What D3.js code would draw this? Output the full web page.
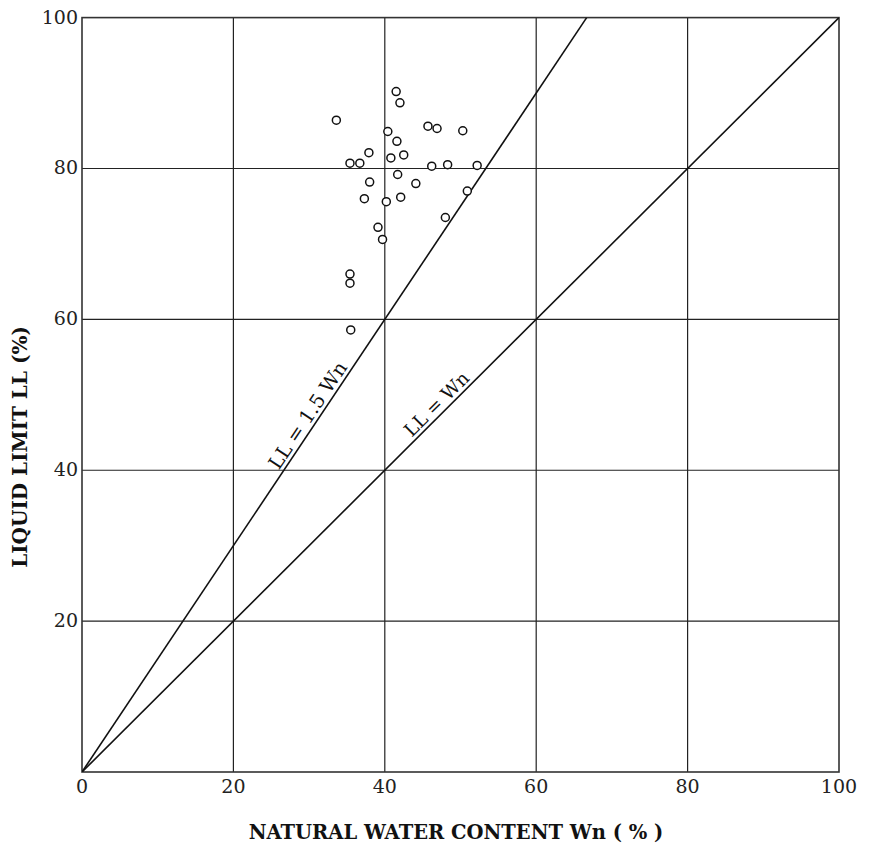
<!DOCTYPE html>
<html>
<head>
<meta charset="utf-8">
<script src="https://cdn.jsdelivr.net/npm/d3@7.9.0/dist/d3.min.js"></script>
<style>
  html, body { margin: 0; padding: 0; background: #fff; }
  svg { display: block; }
  .tick-label { font-family: "DejaVu Serif", serif; font-size: 19px; fill: #222; }
  .axis-title { font-family: "DejaVu Serif", serif; font-weight: bold; fill: #111; }
  .line-label { font-family: "DejaVu Serif", serif; fill: #111; }
</style>
</head>
<body>
<svg id="chart" width="869" height="851"></svg>
<script>
// natural water content Wn (%) of each sample
const wn = [41.5, 42.0, 33.6, 45.7, 46.9, 50.3, 40.4, 41.6, 37.9, 42.5,
            40.8, 35.4, 36.7, 46.2, 48.3, 52.2, 41.7, 38.0, 44.1, 50.9,
            37.3, 42.1, 40.2, 48.0, 39.1, 39.7, 35.4, 35.4, 35.5];
// liquid limit LL (%) of each sample
const ll = [90.2, 88.7, 86.4, 85.6, 85.3, 85.0, 84.9, 83.6, 82.1, 81.8,
            81.4, 80.7, 80.7, 80.3, 80.5, 80.4, 79.2, 78.2, 78.0, 77.0,
            76.0, 76.2, 75.6, 73.5, 72.2, 70.6, 66.0, 64.8, 58.6];

const gridValues = [20, 40, 60, 80];
const xTickLabels = [0, 20, 40, 60, 80, 100];
const yTickLabels = [20, 40, 60, 80, 100];

// reference lines LL = k * Wn
const refRatios = [1.5, 1];
const refLabels = ["LL = 1.5 Wn", "LL = Wn"];
const refLabelAt = [31, 47.8];   // Wn where the label sits
const refLabelSize = [19.5, 18.5];

const margin = { top: 17.6, right: 30, bottom: 79, left: 82 };
const svg = d3.select("#chart");
const width = 869 - margin.left - margin.right;
const height = 851 - margin.top - margin.bottom;

const x = d3.scaleLinear().domain([0, 100]).range([0, width]);
const y = d3.scaleLinear().domain([0, 100]).range([height, 0]);

const g = svg.append("g").attr("transform", `translate(${margin.left},${margin.top})`);

// grid
g.selectAll(".vgrid").data(gridValues).join("line")
  .attr("x1", d => x(d)).attr("x2", d => x(d))
  .attr("y1", 0).attr("y2", height)
  .attr("stroke", "#222").attr("stroke-width", 1.2);
g.selectAll(".hgrid").data(gridValues).join("line")
  .attr("class", "hgrid")
  .attr("x1", 0).attr("x2", width)
  .attr("y1", d => y(d)).attr("y2", d => y(d))
  .attr("stroke", "#222").attr("stroke-width", 1.2);

// frame
g.append("rect")
  .attr("width", width).attr("height", height)
  .attr("fill", "none").attr("stroke", "#333").attr("stroke-width", 1.6);

// reference lines, clipped to the plot
const clip = svg.append("defs").append("clipPath").attr("id", "plotclip");
clip.append("rect").attr("width", width).attr("height", height);

refRatios.forEach((k, i) => {
  const xEnd = Math.min(100, 100 / k);
  g.append("line")
    .attr("clip-path", "url(#plotclip)")
    .attr("x1", x(0)).attr("y1", y(0))
    .attr("x2", x(xEnd)).attr("y2", y(k * xEnd))
    .attr("stroke", "#111").attr("stroke-width", 1.6);

  const angle = Math.atan2(y(0) - y(k * 10), x(10) - x(0)) * 180 / Math.PI;
  const lx = x(refLabelAt[i]), ly = y(k * refLabelAt[i]);
  g.append("text")
    .attr("class", "line-label")
    .style("font-size", refLabelSize[i] + "px")
    .attr("text-anchor", "middle")
    .attr("transform", `translate(${lx},${ly}) rotate(${-angle}) translate(0,-4)`)
    .text(refLabels[i]);
});

// data points
g.selectAll("circle").data(wn.map((w, i) => [w, ll[i]])).join("circle")
  .attr("cx", d => x(d[0])).attr("cy", d => y(d[1]))
  .attr("r", 4)
  .attr("fill", "#fff").attr("stroke", "#111").attr("stroke-width", 1.5);

// tick labels
g.selectAll(".xlab").data(xTickLabels).join("text")
  .attr("class", "tick-label")
  .attr("x", d => x(d)).attr("y", height + 21)
  .attr("text-anchor", "middle")
  .text(d => d);
g.selectAll(".ylab").data(yTickLabels).join("text")
  .attr("class", "tick-label")
  .attr("x", -4).attr("y", d => y(d) + 6)
  .attr("text-anchor", "end")
  .text(d => d);

// axis titles
svg.append("text")
  .attr("class", "axis-title")
  .attr("x", 456).attr("y", 839)
  .attr("text-anchor", "middle")
  .style("font-size", "19.5px")
  .text("NATURAL WATER CONTENT Wn ( % )");
svg.append("text")
  .attr("class", "axis-title")
  .attr("transform", "translate(27,447) rotate(-90)")
  .attr("text-anchor", "middle")
  .style("font-size", "20px")
  .text("LIQUID LIMIT LL (%)");
</script>
</body>
</html>
